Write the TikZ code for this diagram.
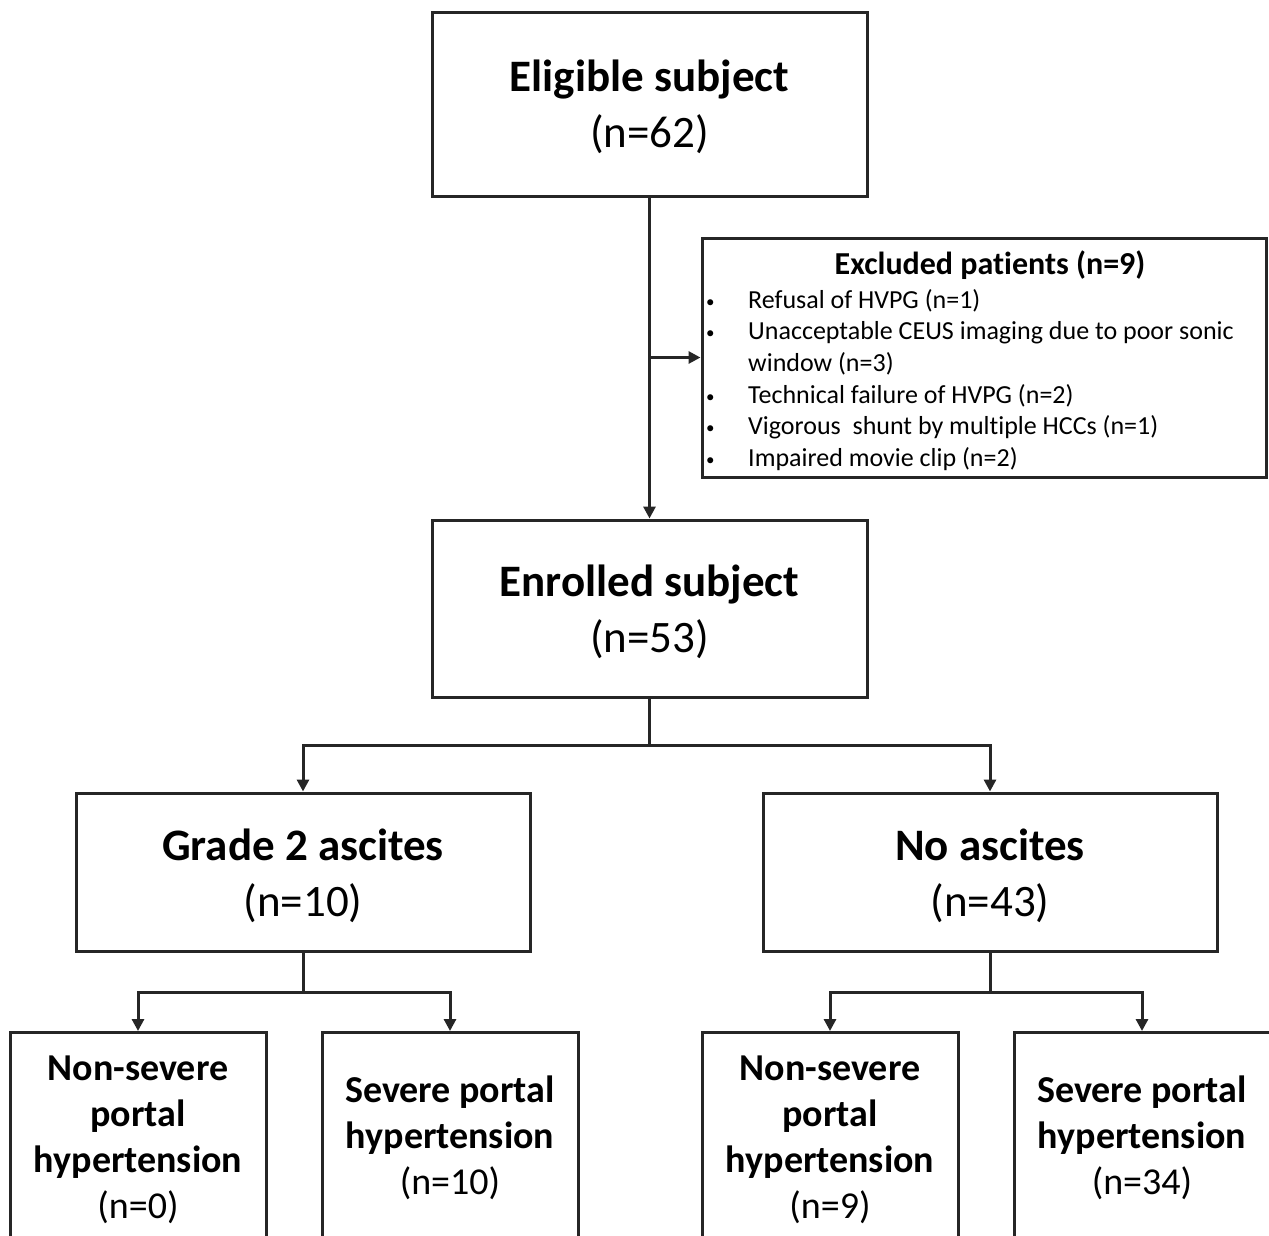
\documentclass[tikz,border=0pt]{standalone}
\usepackage{fontspec}
\setmainfont[RawFeature={-liga}]{Carlito}
\usetikzlibrary{arrows.meta}
\newcommand{\smallbul}{\raisebox{1pt}{\fontsize{17}{20}\selectfont\textbullet}}
\begin{document}
\begin{tikzpicture}[x=1pt,y=-1pt,
  box/.style={draw=black!85, line width=3pt, inner sep=0pt},
  big/.style={font=\fontsize{45}{56}\selectfont, align=center, inner sep=0pt},
  small/.style={font=\fontsize{38}{46}\selectfont, align=center, inner sep=0pt},
  conn/.style={draw=black!85, line width=3pt},
  arr/.style={conn, -{Triangle[length=12pt,width=12pt]}}]
\useasboundingbox (0,0) rectangle (1269,1235);
\clip (0,0) rectangle (1269,1235);
% main boxes
\node[box, minimum width=435pt, minimum height=184pt] (elig) at (649.5,104) {};
\node[big] (eligt) at (649.5,107) {\textbf{Eligible subject}\\(n=62)};
\node[box, minimum width=564pt, minimum height=239pt] (excl) at (984,357.5) {};
\node[inner sep=0pt, font=\fontsize{32}{36}\selectfont\bfseries] (exclt) at (990,265.5) {Excluded patients (n=9)};
\node[inner sep=0pt, anchor=north west, align=left, font=\fontsize{26}{31.6}\selectfont] (excll) at (706,286)
  {\begin{tabular}{@{}p{42pt}@{}l@{}}
   \smallbul & Refusal of HVPG (n=1)\\
   \smallbul & Unacceptable CEUS imaging due to poor sonic\\
    & window (n=3)\\
   \smallbul & Technical failure of HVPG (n=2)\\
   \smallbul & Vigorous\ \ shunt by multiple HCCs (n=1)\\
   \smallbul & Impaired movie clip (n=2)
   \end{tabular}};
\node[box, minimum width=435pt, minimum height=177pt] (enr) at (649.5,608.5) {};
\node[big] (enrt) at (649.5,612) {\textbf{Enrolled subject}\\(n=53)};
\node[box, minimum width=454pt, minimum height=158pt] (grade) at (303,872) {};
\node[big] (gradet) at (303,876) {\textbf{Grade 2 ascites}\\(n=10)};
\node[box, minimum width=454pt, minimum height=158pt] (noasc) at (990,872) {};
\node[big] (noasct) at (990,876) {\textbf{No ascites}\\(n=43)};
% bottom boxes (cut off at the bottom edge)
\node[box, minimum width=256pt, minimum height=300pt, anchor=north] (b1) at (138,1031) {};
\node[box, minimum width=256pt, minimum height=300pt, anchor=north] (b2) at (450,1031) {};
\node[box, minimum width=256pt, minimum height=300pt, anchor=north] (b3) at (830,1031) {};
\node[box, minimum width=256pt, minimum height=300pt, anchor=north] (b4) at (1142,1031) {};
\node[small] (t1) at (138,1140) {\textbf{Non-severe}\\\textbf{portal}\\\textbf{hypertension}\\(n=0)};
\node[small] (t2) at (450,1138) {\textbf{Severe portal}\\\textbf{hypertension}\\(n=10)};
\node[small] (t3) at (830,1140) {\textbf{Non-severe}\\\textbf{portal}\\\textbf{hypertension}\\(n=9)};
\node[small] (t4) at (1142,1138) {\textbf{Severe portal}\\\textbf{hypertension}\\(n=34)};
% connectors
\draw[arr] (elig.south) -- (enr.north);
\draw[arr] (elig.south |- excl.west) -- (excl.west);
\coordinate (j1) at (649.5,745);
\coordinate (j2) at (303,992);
\coordinate (j3) at (990,992);
\draw[conn] (enr.south) -- (j1);
\draw[arr] (j1) -| (grade.north);
\draw[arr] (j1) -| (noasc.north);
\draw[conn] (grade.south) -- (j2);
\draw[arr] (j2) -| (b1.north);
\draw[arr] (j2) -| (b2.north);
\draw[conn] (noasc.south) -- (j3);
\draw[arr] (j3) -| (b3.north);
\draw[arr] (j3) -| (b4.north);
\end{tikzpicture}
\end{document}
